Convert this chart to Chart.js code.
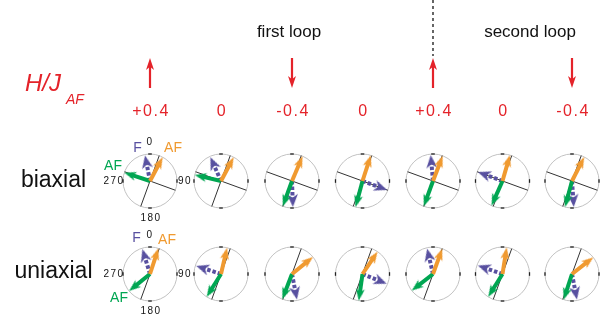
<!DOCTYPE html>
<html>
<head>
<meta charset="utf-8">
<script src="https://cdn.jsdelivr.net/npm/chart.js@4/dist/chart.umd.min.js"></script>
<style>
  html, body { margin: 0; padding: 0; background: #fff; }
  canvas { display: block; }
</style>
</head>
<body>
<canvas id="spin-chart" width="610" height="322"></canvas>
<script>
// --- data ---
const fieldValues = [0.4, 0, -0.4, 0, 0.4, 0, -0.4];   // H/J_AF per step
const loopLabels = ['first loop', 'second loop'];
const rowLabels = ['biaxial', 'uniaxial'];
const compassLabels = ['0', '90', '180', '270'];

// spin directions, degrees clockwise from 0 (up)
const biaxialAF1 = [28, 28, 23, 18, 21, 16, 27];        // orange AF
const biaxialAF2 = [288, 283, 200, 195, 200, 204, 195]; // green AF
const biaxialF = [349, 336, 178, 110, 355, 290, 176];   // blue F
const uniaxialAF1 = [18, 13, 51, 34, 20, 9, 52];
const uniaxialAF2 = [231, 212, 201, 188, 232, 212, 198];
const uniaxialF = [343, 288, 169, 112, 347, 289, 169];

// easy axes
const biaxialEasy = [20, 110];
const uniaxialEasy = [20];

// --- layout ---
const COLS = [150, 221, 292, 362.5, 433, 502.5, 572];
const ROWS = [181, 274];
const R = 27;
const COLORS = {
    orange: '#f09a30', green: '#00a652', blue: '#5850a0',
    red: '#e4232a', ring: '#c2c2c2', axis: '#333333'
};
const FONT = '"Liberation Sans", Arial, sans-serif';

const rows = [
    { label: rowLabels[0], easy: biaxialEasy, af1: biaxialAF1, af2: biaxialAF2, f: biaxialF },
    { label: rowLabels[1], easy: uniaxialEasy, af1: uniaxialAF1, af2: uniaxialAF2, f: uniaxialF }
];

function polar(cx, cy, deg, len) {
    const a = deg * Math.PI / 180;
    return { x: cx + Math.sin(a) * len, y: cy - Math.cos(a) * len };
}

// arrowhead drawn pointing up, used as a point style (rotated by chart.js)
function headImage(color, len, wid) {
    const s = Math.ceil(Math.max(len, wid)) + 2;
    const c = document.createElement('canvas');
    c.width = s; c.height = s;
    const g = c.getContext('2d');
    const cx = s / 2, top = (s - len) / 2;
    g.fillStyle = color;
    g.beginPath();
    g.moveTo(cx, top);
    g.lineTo(cx + wid / 2, top + len);
    g.lineTo(cx, top + len * 0.72);
    g.lineTo(cx - wid / 2, top + len);
    g.closePath();
    g.fill();
    return c;
}

const HEADS = {
    orange: { img: headImage(COLORS.orange, 12, 9), len: 12 },
    green: { img: headImage(COLORS.green, 12, 9), len: 12 },
    blue: { img: headImage(COLORS.blue, 13, 11), len: 13 },
    red: { img: headImage(COLORS.red, 12, 8), len: 12 }
};

const datasets = [];
const centers = [];
const tickPts = [], tickRot = [];

rows.forEach((row, r) => {
    COLS.forEach((cx, i) => {
        const cy = ROWS[r];
        centers.push({ x: cx, y: cy });
        [0, 90, 180, 270].forEach(a => {
            tickPts.push(polar(cx, cy, a, R));
            tickRot.push(a % 180 === 0 ? 0 : 90);
        });
        row.easy.forEach(a => {
            datasets.push({
                data: [polar(cx, cy, a, R), polar(cx, cy, a + 180, R)],
                showLine: true, borderColor: COLORS.axis, borderWidth: 1,
                pointRadius: 0, order: 9
            });
        });
    });
});

datasets.push({
    data: centers, pointStyle: 'circle', pointRadius: R,
    borderColor: COLORS.ring, borderWidth: 1, backgroundColor: 'rgba(0,0,0,0)', order: 10
});
datasets.push({
    data: tickPts, pointStyle: 'line', pointRadius: 1.8, rotation: tickRot,
    borderColor: '#222', borderWidth: 1.3, order: 8
});

function addArrow(cx, cy, deg, len, color, width, dash, order) {
    const head = HEADS[color];
    datasets.push({
        data: [{ x: cx, y: cy }, polar(cx, cy, deg, len - head.len * 0.55)],
        showLine: true, borderColor: COLORS[color], borderWidth: width,
        borderDash: dash, borderCapStyle: 'butt', pointRadius: 0, order: order
    });
    datasets.push({
        data: [polar(cx, cy, deg, len - head.len / 2)],
        pointStyle: head.img, rotation: deg, pointRadius: 5, order: order
    });
}

rows.forEach((row, r) => {
    COLS.forEach((cx, i) => {
        const cy = ROWS[r];
        addArrow(cx, cy, row.f[i], 26, 'blue', 4, [3.5, 2], 5);
        addArrow(cx, cy, row.af2[i], 27, 'green', 4, [], 4);
        addArrow(cx, cy, row.af1[i], 27, 'orange', 4, [], 3);
    });
});

// field direction arrows
fieldValues.forEach((v, i) => {
    if (v === 0) return;
    const deg = v > 0 ? 0 : 180;
    const mid = polar(COLS[i], 73, deg + 180, 15);
    addArrow(mid.x, mid.y, deg, 30, 'red', 2.2, [], 1);
});

// dashed separator between loops
datasets.push({
    data: [{ x: COLS[4], y: 0 }, { x: COLS[4], y: 56 }],
    showLine: true, borderColor: '#000', borderWidth: 1.2, borderDash: [3, 3],
    pointRadius: 0, order: 1
});

function fmtField(v) {
    if (v > 0) return '+' + v.toFixed(1);
    if (v < 0) return '-' + Math.abs(v).toFixed(1);
    return '0';
}

const textPlugin = {
    id: 'texts',
    afterDatasetsDraw(chart) {
        const ctx = chart.ctx;
        const sx = v => chart.scales.x.getPixelForValue(v);
        const sy = v => chart.scales.y.getPixelForValue(v);
        const put = (txt, x, y, font, color, align, spacing) => {
            ctx.font = font;
            ctx.fillStyle = color;
            ctx.textAlign = align || 'center';
            ctx.textBaseline = 'alphabetic';
            ctx.letterSpacing = spacing || '0px';
            ctx.fillText(txt, sx(x), sy(y));
        };
        ctx.save();

        // H/J_AF
        put('H/J', 25, 91, 'italic 24px ' + FONT, COLORS.red, 'left');
        put('AF', 66, 104, 'italic 14px ' + FONT, COLORS.red, 'left');

        fieldValues.forEach((v, i) => {
            put(fmtField(v), COLS[i] + 1, 116, '16px ' + FONT, COLORS.red, 'center', '1.5px');
        });

        put(loopLabels[0], 289, 37, '17px ' + FONT, '#111');
        put(loopLabels[1], 530, 37, '17px ' + FONT, '#111');

        // row labels and compass / spin labels on the first circle
        const spinOffsets = [
            { f: [-12.5, -29], af1: [23, -29], af2: [-37, -11] },
            { f: [-13.5, -32], af1: [17, -30], af2: [-31, 28] }
        ];
        rows.forEach((row, r) => {
            const cx = COLS[0], cy = ROWS[r];
            put(row.label, 53.5, r === 0 ? 187 : 278, '23px ' + FONT, '#111');
            const small = '10px ' + FONT;
            put(compassLabels[0], cx, cy - 36, small, '#111', 'center', '1.5px');
            put(compassLabels[1], cx + 35, cy + 3, small, '#111', 'center', '1.5px');
            put(compassLabels[2], cx + 1, cy + 40, small, '#111', 'center', '1.5px');
            put(compassLabels[3], cx - 36, cy + 3, small, '#111', 'center', '1.5px');
            const o = spinOffsets[r];
            put('F', cx + o.f[0], cy + o.f[1], '14px ' + FONT, COLORS.blue);
            put('AF', cx + o.af1[0], cy + o.af1[1], '14px ' + FONT, COLORS.orange);
            put('AF', cx + o.af2[0], cy + o.af2[1], '14px ' + FONT, COLORS.green);
        });
        ctx.restore();
    }
};

new Chart(document.getElementById('spin-chart'), {
    type: 'scatter',
    data: { datasets: datasets },
    options: {
        responsive: false,
        animation: false,
        events: [],
        layout: { padding: 0, autoPadding: false },
        scales: {
            x: { type: 'linear', min: 0, max: 610, display: false },
            y: { type: 'linear', min: 0, max: 322, reverse: true, display: false }
        },
        plugins: { legend: { display: false }, tooltip: { enabled: false } },
        elements: { point: { hoverRadius: 0 } }
    },
    plugins: [textPlugin]
});
</script>
</body>
</html>
